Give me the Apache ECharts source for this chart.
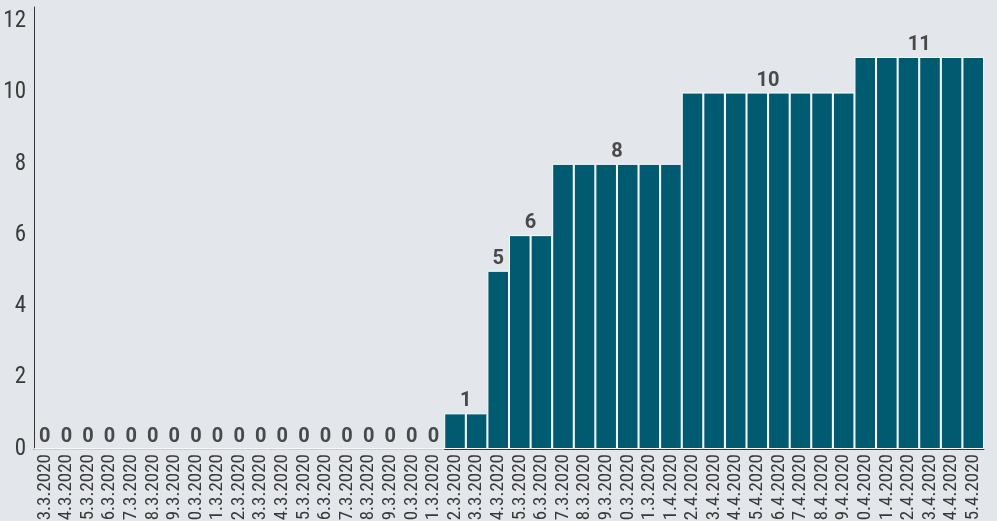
<!DOCTYPE html>
<html>
<head>
<meta charset="utf-8">
<script src="https://cdn.jsdelivr.net/npm/echarts@6/dist/echarts.min.js"></script>
<style>
html,body{margin:0;padding:0;background:#e3e6ea;}
#c{width:997px;height:521px;}
</style>
</head>
<body>
<div id="c"></div>
<script>
const categories = ['3.3.2020','4.3.2020','5.3.2020','6.3.2020','7.3.2020','8.3.2020','9.3.2020','10.3.2020','11.3.2020','12.3.2020','13.3.2020','14.3.2020','15.3.2020','16.3.2020','17.3.2020','18.3.2020','19.3.2020','20.3.2020','21.3.2020','22.3.2020','23.3.2020','24.3.2020','25.3.2020','26.3.2020','27.3.2020','28.3.2020','29.3.2020','30.3.2020','31.3.2020','1.4.2020','2.4.2020','3.4.2020','4.4.2020','5.4.2020','6.4.2020','7.4.2020','8.4.2020','9.4.2020','10.4.2020','11.4.2020','12.4.2020','13.4.2020','14.4.2020','15.4.2020'];
const values = [0,0,0,0,0,0,0,0,0,0,0,0,0,0,0,0,0,0,0,1,1,5,6,6,8,8,8,8,8,8,10,10,10,10,10,10,10,10,11,11,11,11,11,11];
const yTicks = [0,2,4,6,8,10,12];

// one label per run of equal non-zero values, one per zero bar
const labelPoints = [];
let i = 0;
while (i < values.length) {
  let j = i;
  if (values[i] !== 0) { while (j + 1 < values.length && values[j + 1] === values[i]) j++; }
  labelPoints.push([(i + j) / 2, values[i]]);
  i = j + 1;
}

const narrow = "'Liberation Sans Narrow', 'Roboto Condensed', 'DejaVu Sans Condensed', Roboto, sans-serif";
const chart = echarts.init(document.getElementById('c'));
chart.setOption({
  backgroundColor: '#e3e6ea',
  animation: false,
  grid: {left: 34, right: 13, top: 7, bottom: 72, containLabel: false, outerBoundsMode: 'none'},
  xAxis: [{
    type: 'category', data: categories,
    axisLine: {lineStyle: {color: '#333', width: 1}},
    axisTick: {show: false},
    axisLabel: {rotate: 90, interval: 0, fontFamily: narrow, fontSize: 19, color: '#3a3a3a', margin: 5}
  }, {
    type: 'value', min: -0.5, max: values.length - 0.5, show: false
  }],
  yAxis: {
    type: 'value', min: 0, max: 12.4, interval: 2,
    axisLine: {show: true, onZero: false, lineStyle: {color: '#333', width: 1}},
    axisTick: {show: false},
    splitLine: {show: false},
    axisLabel: {showMaxLabel: false, fontFamily: narrow, fontSize: 23, color: '#3a3a3a', margin: 8,
      formatter: v => yTicks.includes(v) ? String(v) : ''}
  },
  series: [{
    type: 'bar', data: values, barCategoryGap: '0%',
    itemStyle: {color: '#005b70', borderColor: '#ffffff', borderWidth: 1}
  }, {
    type: 'scatter', xAxisIndex: 1, data: labelPoints, symbolSize: 0, silent: true,
    label: {show: true, position: 'top', distance: 2, formatter: p => String(p.value[1]),
      fontFamily: 'Roboto', fontWeight: 'bold', fontSize: 20, color: '#222'}
  }]
});
</script>
</body>
</html>
